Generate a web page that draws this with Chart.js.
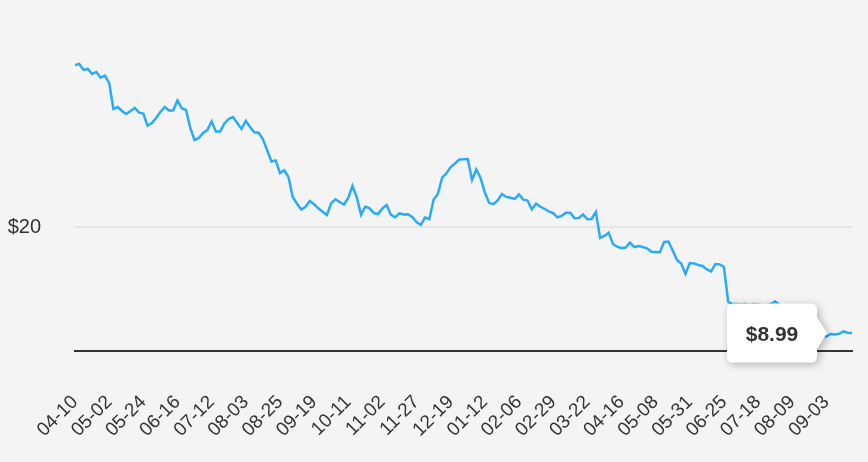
<!DOCTYPE html>
<html>
<head>
<meta charset="utf-8">
<script src="https://cdn.jsdelivr.net/npm/chart.js@4/dist/chart.umd.min.js"></script>
<style>
  html, body { margin: 0; padding: 0; background: #f4f4f4; }
  #wrap { width: 868px; height: 462px; }
</style>
</head>
<body>
<div id="wrap"><canvas id="chart" width="868" height="462"></canvas></div>
<script>
// x tick labels, one every 16 trading days starting 2023-04-10
const tickLabels = ['04-10', '05-02', '05-24', '06-16', '07-12', '08-03', '08-25', '09-19',
    '10-11', '11-02', '11-27', '12-19', '01-12', '02-06', '02-29', '03-22', '04-16',
    '05-08', '05-31', '06-25', '07-18', '08-09', '09-03'];
const tickStep = 16;

// closing price, every second trading day
const sampleStep = 2;
const prices = [
    36.83, 36.93, 36.31, 36.41, 35.89, 36.10, 35.51, 35.73, 34.96, 32.26,
    32.46, 32.05, 31.74, 32.05, 32.36, 31.88, 31.79, 30.52, 30.80, 31.32,
    31.94, 32.46, 32.10, 32.10, 33.14, 32.33, 32.15, 30.28, 29.04, 29.24,
    29.76, 30.07, 30.96, 29.92, 29.92, 30.75, 31.22, 31.42, 30.80, 30.18,
    31.01, 30.39, 29.84, 29.79, 29.14, 28.00, 26.80, 26.91, 25.61, 25.89,
    25.19, 23.12, 22.42, 21.82, 22.10, 22.70, 22.36, 21.94, 21.58, 21.25,
    22.46, 22.87, 22.60, 22.34, 23.01, 24.26, 23.08, 21.28, 22.13, 21.94,
    21.45, 21.35, 21.92, 22.28, 21.25, 21.01, 21.42, 21.29, 21.31, 21.04,
    20.52, 20.21, 20.99, 20.83, 22.86, 23.43, 25.12, 25.58, 26.23, 26.60,
    27.01, 27.03, 27.06, 24.88, 25.97, 25.09, 23.58, 22.51, 22.37, 22.75,
    23.43, 23.12, 23.03, 22.93, 23.38, 22.84, 22.75, 21.84, 22.41, 22.10,
    21.89, 21.61, 21.45, 21.01, 21.16, 21.49, 21.49, 20.91, 20.93, 21.29,
    20.80, 20.83, 21.56, 18.86, 19.07, 19.41, 18.23, 17.95, 17.79, 17.87,
    18.37, 17.92, 18.03, 17.92, 17.79, 17.43, 17.40, 17.37, 18.44, 18.49,
    17.56, 16.57, 16.21, 15.12, 16.26, 16.21, 16.05, 15.95, 15.59, 15.39,
    16.16, 16.12, 15.85, 12.21, 12.00, 12.00, 11.95, 12.00, 11.90, 12.00,
    11.95, 11.90, 11.90, 12.00, 12.26, 11.90, 11.80, 11.59, 11.17, 10.55,
    10.13, 9.72, 9.30, 8.99, 8.78, 8.68, 8.63, 8.89, 8.84, 8.91,
    9.15, 9.02, 8.99
];
const yTicks = [20];

const FONT = '"Liberation Sans", Arial, Helvetica, sans-serif';
const TEXT = '#333333';

// grey page background
const bgPlugin = {
    id: 'bg',
    beforeDraw: (chart) => {
        const ctx = chart.ctx;
        ctx.save();
        ctx.fillStyle = '#f4f4f4';
        ctx.fillRect(0, 0, chart.width, chart.height);
        ctx.restore();
    }
};

// always-on label for the last price
const lastLabel = {
    id: 'lastLabel',
    afterDraw: (chart) => {
        const meta = chart.getDatasetMeta(0);
        const el = meta.data[meta.data.length - 1];
        if (!el) return;
        const ctx = chart.ctx;
        const tipX = el.x - 25;
        const tipY = el.y;
        const w = 90, h = 59, r = 6, arrow = 10, half = 16;
        const right = tipX - arrow;
        const left = right - w;
        const top = tipY - h / 2;
        const bottom = top + h;

        ctx.save();
        ctx.beginPath();
        ctx.moveTo(left + r, top);
        ctx.lineTo(right - r, top);
        ctx.quadraticCurveTo(right, top, right, top + r);
        ctx.lineTo(right, tipY - half);
        ctx.lineTo(tipX, tipY);
        ctx.lineTo(right, tipY + half);
        ctx.lineTo(right, bottom - r);
        ctx.quadraticCurveTo(right, bottom, right - r, bottom);
        ctx.lineTo(left + r, bottom);
        ctx.quadraticCurveTo(left, bottom, left, bottom - r);
        ctx.lineTo(left, top + r);
        ctx.quadraticCurveTo(left, top, left + r, top);
        ctx.closePath();
        ctx.shadowColor = 'rgba(0,0,0,0.28)';
        ctx.shadowBlur = 9;
        ctx.shadowOffsetX = 2;
        ctx.shadowOffsetY = 2;
        ctx.fillStyle = '#ffffff';
        ctx.fill();
        ctx.shadowColor = 'transparent';

        ctx.fillStyle = TEXT;
        ctx.font = 'bold 21px ' + FONT;
        ctx.textAlign = 'center';
        ctx.textBaseline = 'middle';
        ctx.fillText('$' + prices[prices.length - 1].toFixed(2), (left + right) / 2, tipY + 2);
        ctx.restore();
    }
};

const ctx = document.getElementById('chart').getContext('2d');
new Chart(ctx, {
    type: 'line',
    data: {
        datasets: [{
            data: prices.map((p, i) => ({ x: i * sampleStep, y: p })),
            borderColor: '#2babf5',
            borderWidth: 2.5,
            pointRadius: 0,
            tension: 0,
            fill: false
        }]
    },
    options: {
        responsive: false,
        animation: false,
        events: [],
        layout: { padding: { top: 30, right: 16, left: 0, bottom: 0 } },
        plugins: {
            legend: { display: false },
            tooltip: { enabled: false }
        },
        scales: {
            x: {
                type: 'linear',
                min: 0,
                max: (prices.length - 1) * sampleStep,
                afterBuildTicks: (scale) => {
                    scale.ticks = tickLabels.map((t, i) => ({ value: i * tickStep }));
                },
                afterFit: (scale) => {
                    scale.height = 111;
                    scale.paddingLeft = 0;
                    scale.paddingRight = 0;
                },
                grid: { display: false, drawTicks: false },
                border: { display: true, color: '#333333', width: 2 },
                ticks: {
                    autoSkip: false,
                    minRotation: 45,
                    maxRotation: 45,
                    padding: 40,
                    color: TEXT,
                    font: { family: FONT, size: 19 },
                    callback: (value, index) => tickLabels[index]
                }
            },
            y: {
                min: 7.12,
                max: 40.46,
                afterBuildTicks: (scale) => {
                    scale.ticks = yTicks.map(v => ({ value: v }));
                },
                afterFit: (scale) => {
                    scale.width = 75;
                    scale.paddingTop = 0;
                    scale.paddingBottom = 0;
                },
                grid: { color: '#e6e6e6', lineWidth: 2, drawTicks: false },
                border: { display: false },
                ticks: {
                    padding: 34,
                    color: TEXT,
                    font: { family: FONT, size: 20 },
                    callback: (value) => '$' + value
                }
            }
        }
    },
    plugins: [bgPlugin, lastLabel]
});
</script>
</body>
</html>
